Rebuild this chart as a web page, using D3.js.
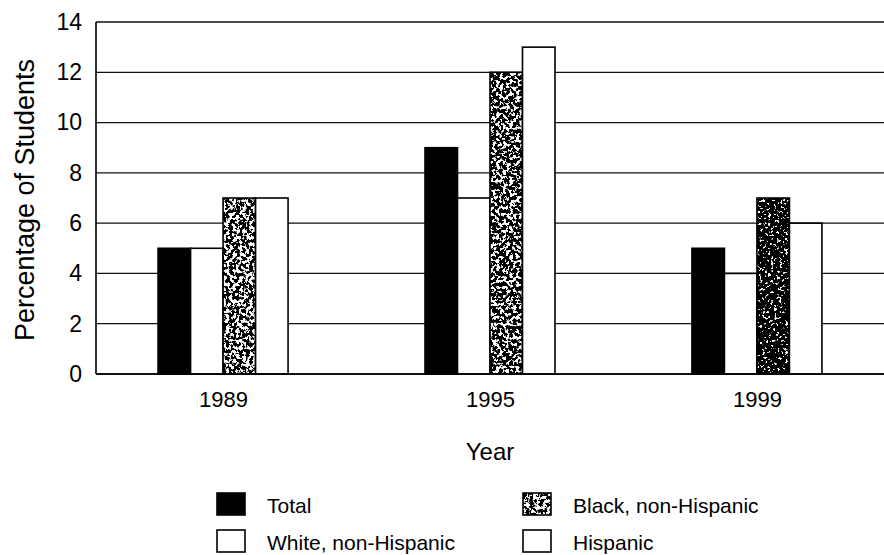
<!DOCTYPE html>
<html>
<head>
<meta charset="utf-8">
<script src="https://cdn.jsdelivr.net/npm/d3@7/dist/d3.min.js"></script>
<style>
  html, body { margin: 0; padding: 0; background: #fff; }
  svg { display: block; font-family: "Liberation Sans", Arial, Helvetica, sans-serif; }
</style>
</head>
<body>
<svg id="chart" width="884" height="555"></svg>
<script>
// ---- data ----
const years = ["1989", "1995", "1999"];
const seriesNames = ["Total", "White, non-Hispanic", "Black, non-Hispanic", "Hispanic"];
const totalValues = [5, 9, 5];
const whiteValues = [5, 7, 4];
const blackValues = [7, 12, 7];
const hispanicValues = [7, 13, 6];
const yTicks = [0, 2, 4, 6, 8, 10, 12, 14];

const seriesValues = [totalValues, whiteValues, blackValues, hispanicValues];

(function draw() {
const svg = d3.select("#chart");
const mLeft = 96, mRight = 884, mTop = 22, mBottom = 374;

// ---- speckle filters for the "Black, non-Hispanic" bars ----
const defs = svg.append("defs");
function speckle(id, freq, seed, slope, offset) {
  const f = defs.append("filter").attr("id", id)
    .attr("x", 0).attr("y", 0).attr("width", 1).attr("height", 1)
    .attr("filterUnits", "objectBoundingBox");
  f.append("feTurbulence").attr("type", "fractalNoise")
    .attr("baseFrequency", freq).attr("numOctaves", 3).attr("seed", seed).attr("result", "noise");
  f.append("feColorMatrix").attr("in", "noise").attr("type", "matrix")
    .attr("values", `0 0 0 0 1  0 0 0 0 1  0 0 0 0 1  ${slope} 0 0 0 ${offset}`)
    .attr("result", "white");
  f.append("feComposite").attr("in", "white").attr("in2", "SourceGraphic")
    .attr("operator", "in").attr("result", "w");
  const m = f.append("feMerge");
  m.append("feMergeNode").attr("in", "SourceGraphic");
  m.append("feMergeNode").attr("in", "w");
}
speckle("speck0", 0.3, 3, 16, -7.9);
speckle("speck1", 0.3, 7, 16, -8.3);
speckle("speck2", 0.35, 11, 16, -9.9);
speckle("speckL", 0.3, 5, 16, -7.9);

// ---- scales ----
const y = d3.scaleLinear().domain([0, 14]).range([mBottom, mTop]);
const x = d3.scalePoint().domain(years).range([mLeft, mRight]).padding(0.476);
const xs = d3.scaleBand().domain(seriesNames).range([-65, 65]).padding(0);

// ---- gridlines ----
svg.append("g").selectAll("line").data(yTicks).join("line")
  .attr("x1", mLeft).attr("x2", mRight)
  .attr("y1", d => y(d)).attr("y2", d => y(d))
  .attr("stroke", "#111").attr("stroke-width", 1.3);

// ---- bars ----
const fills = ["#000", "#fff", "#000", "#fff"];
const groups = svg.append("g").selectAll("g").data(years).join("g")
  .attr("transform", d => `translate(${x(d)},0)`);

groups.each(function(yr, yi) {
  const g = d3.select(this);
  seriesNames.forEach((s, si) => {
    const v = seriesValues[si][yi];
    const r = g.append("rect")
      .attr("x", xs(s)).attr("width", xs.bandwidth())
      .attr("y", y(v)).attr("height", y(0) - y(v))
      .attr("fill", fills[si]);
    if (si === 2) r.attr("filter", `url(#speck${yi})`);
    g.append("rect")
      .attr("x", xs(s)).attr("width", xs.bandwidth())
      .attr("y", y(v)).attr("height", y(0) - y(v))
      .attr("fill", "none").attr("stroke", "#000").attr("stroke-width", 1.6);
  });
});

// ---- axes ----
svg.append("line").attr("x1", mLeft).attr("x2", mLeft).attr("y1", mTop).attr("y2", mBottom)
  .attr("stroke", "#000").attr("stroke-width", 1.6);
svg.append("line").attr("x1", mLeft).attr("x2", mRight).attr("y1", mBottom).attr("y2", mBottom)
  .attr("stroke", "#000").attr("stroke-width", 1.6);

const yAxis = svg.append("g").attr("transform", `translate(${mLeft},0)`)
  .call(d3.axisLeft(y).tickValues(yTicks).tickFormat(d3.format("d")).tickSize(0).tickPadding(14));
yAxis.select(".domain").remove();
yAxis.selectAll("text").attr("font-size", 23).attr("fill", "#000")
  .attr("font-family", "Liberation Sans, Arial, sans-serif");

const xAxis = svg.append("g").attr("transform", `translate(0,${mBottom})`)
  .call(d3.axisBottom(x).tickSize(0).tickPadding(17));
xAxis.select(".domain").remove();
xAxis.selectAll("text").attr("font-size", 22).attr("fill", "#000")
  .attr("font-family", "Liberation Sans, Arial, sans-serif");

// ---- axis titles ----
svg.append("text").attr("transform", "translate(34,200) rotate(-90)")
  .attr("text-anchor", "middle").attr("font-size", 27).text("Percentage of Students");
svg.append("text").attr("x", 490).attr("y", 460)
  .attr("text-anchor", "middle").attr("font-size", 24).text("Year");

// ---- legend ----
const legendPos = [
  { x: 217, y: 493 }, { x: 217, y: 530 },
  { x: 523, y: 493 }, { x: 523, y: 530 }
];
// series order -> legend slot: Total, White, Black, Hispanic
const slot = [0, 1, 2, 3];
const leg = svg.append("g");
seriesNames.forEach((s, si) => {
  const p = legendPos[slot[si]];
  const r = leg.append("rect").attr("x", p.x).attr("y", p.y).attr("width", 28).attr("height", 22)
    .attr("fill", fills[si]);
  if (si === 2) r.attr("filter", "url(#speckL)");
  leg.append("rect").attr("x", p.x).attr("y", p.y).attr("width", 28).attr("height", 22)
    .attr("fill", "none").attr("stroke", "#000").attr("stroke-width", 1.6);
  leg.append("text").attr("x", p.x + 50).attr("y", p.y + 20)
    .attr("font-size", 21).text(s);
});
})();
</script>
</body>
</html>
